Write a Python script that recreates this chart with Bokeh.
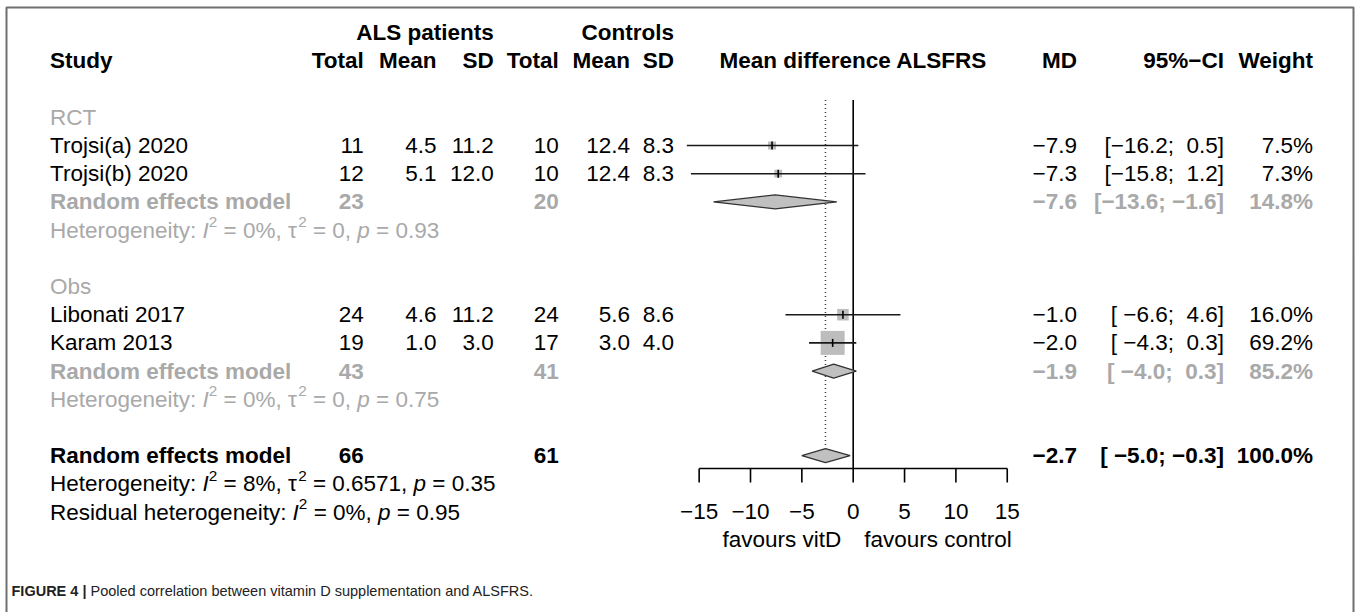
import math
from bokeh.plotting import figure
from bokeh.models import Range1d, ColumnDataSource
from bokeh.core.properties import value
from bokeh.embed import file_html
from bokeh.resources import INLINE

# ---------------- data ----------------
studies = ["Trojsi(a) 2020", "Trojsi(b) 2020", "Libonati 2017", "Karam 2013"]
study_group = ["RCT", "RCT", "Obs", "Obs"]
als_total = [11, 12, 24, 19]
als_mean = [4.5, 5.1, 4.6, 1.0]
als_sd = [11.2, 12.0, 11.2, 3.0]
ctl_total = [10, 10, 24, 17]
ctl_mean = [12.4, 12.4, 5.6, 3.0]
ctl_sd = [8.3, 8.3, 8.6, 4.0]
md = [-7.9, -7.3, -1.0, -2.0]
ci_lo = [-16.2, -15.8, -6.6, -4.3]
ci_hi = [0.5, 1.2, 4.6, 0.3]
weight = [7.5, 7.3, 16.0, 69.2]

groups = ["RCT", "Obs"]
grp_als_total = [23, 43]
grp_ctl_total = [20, 41]
grp_md = [-7.6, -1.9]
grp_lo = [-13.6, -4.0]
grp_hi = [-1.6, 0.3]
grp_weight = [14.8, 85.2]
grp_i2 = ["0%", "0%"]
grp_tau2 = ["0", "0"]
grp_p = ["0.93", "0.75"]

overall_als_total = [66]
overall_ctl_total = [61]
overall_md = [-2.7]
overall_lo = [-5.0]
overall_hi = [-0.3]
overall_weight = [100.0]
overall_i2 = "8%"
overall_tau2 = "0.6571"
overall_p = "0.35"
resid_i2 = "0%"
resid_p = "0.95"

axis_ticks = [-15, -10, -5, 0, 5, 10, 15]
label_left = "favours vitD"
label_right = "favours control"
caption_bold = "FIGURE 4 |"
caption_text = "Pooled correlation between vitamin D supplementation and ALSFRS."

# ---------------- layout ----------------
W_PX, H_PX = 1358, 612
FONT = "Liberation Sans"
FS = 22.5
GRAY = "#a9a9a9"
NB = "\u00a0"
ROW0 = 60.4
PITCH = 28.2
ZERO_PX = 852.7
PX_PER_UNIT = 10.27
X_STUDY = 49.5
X_ALS_T, X_ALS_M, X_ALS_SD = 363.3, 436.0, 493.3
X_CTL_T, X_CTL_M, X_CTL_SD = 558.3, 629.5, 673.5
X_MD, X_CI, X_W = 1076.5, 1223.5, 1312.5
AXIS_Y = 468.0
TICK_LEN = 14.0
TICKLAB_Y = 510.7
FAV_Y = 539.0
CAPTION_Y = 590.0


def row_y(i):
    return ROW0 + i * PITCH


def fmt(v):
    return f"{v:.1f}".replace("-", "\u2212")


def ci_str(lo, hi):
    a = f"{lo:.1f}".rjust(5).replace(" ", NB)
    b = f"{hi:.1f}".rjust(4).replace(" ", NB)
    return ("[" + a + ";" + NB + b + "]").replace("-", "\u2212")


# Arial / Liberation Sans advance widths (1/1000 em)
AW = {" ": 278, NB: 278, "%": 889, "(": 333, ")": 333, ",": 278, ".": 278,
      ":": 278, ";": 278, "=": 584, "|": 260, "\u03c4": 450}
for c in "0123456789":
    AW[c] = 556
AW.update(dict(zip("ABCDEFGHIJKLMNOPQRSTUVWXYZ",
                   [667, 667, 722, 722, 667, 611, 778, 722, 278, 500, 667, 556, 833,
                    722, 778, 667, 778, 722, 667, 611, 722, 667, 944, 667, 667, 611])))
AW.update(dict(zip("abcdefghijklmnopqrstuvwxyz",
                   [556, 556, 500, 556, 556, 278, 556, 556, 222, 222, 500, 222, 833,
                    556, 556, 556, 556, 333, 500, 278, 556, 500, 722, 500, 500, 500])))
BW = {"F": 611, "I": 278, "G": 778, "U": 722, "R": 722, "E": 667, " ": 278, NB: 278, "4": 556, "|": 280}


def tw(s, size, table=AW):
    return sum(table.get(c, 556) for c in s) / 1000.0 * size


p = figure(width=W_PX, height=H_PX, output_backend="svg", toolbar_location=None,
           x_range=Range1d(0, W_PX), y_range=Range1d(H_PX, 0),
           x_axis_type=None, y_axis_type=None, min_border=0,
           background_fill_color="white", border_fill_color="white")
p.outline_line_color = None
p.xgrid.visible = False
p.ygrid.visible = False
p.extra_x_ranges = {"md": Range1d((0 - ZERO_PX) / PX_PER_UNIT, (W_PX - ZERO_PX) / PX_PER_UNIT)}


def put(xs, ys, texts, color="black", style="normal", size=FS, align="left", rng=None, font=FONT):
    src = ColumnDataSource(dict(x=list(xs), y=list(ys), t=list(texts)))
    kw = dict(x="x", y="y", text="t", source=src, text_font=value(font),
              text_font_size=value(f"{size}px"), text_font_style=value(style),
              text_color=color, text_align=align, text_baseline="middle")
    if rng:
        kw["x_range_name"] = rng
    p.text(**kw)


def het_line(x0, y, tokens, color):
    # tokens: (text, kind) with kind in n (normal), i (italic), s (superscript)
    x = x0
    buckets = {"n": ([], [], []), "i": ([], [], []), "s": ([], [], [])}
    for t, k in tokens:
        t = t.replace(" ", NB)
        size = FS * 0.68 if k == "s" else FS
        yy = y - FS * 0.36 if k == "s" else y
        b = buckets[k]
        b[0].append(x); b[1].append(yy); b[2].append(t)
        x += tw(t, size)
    put(*buckets["n"], color=color)
    put(*buckets["i"], color=color, style="italic")
    put(*buckets["s"], color=color, size=round(FS * 0.68, 1))


# frame
p.line([6, 6, 1353, 1353], [700, 7, 7, 700], line_color="#6e6e6e", line_width=2)

# headers
put([X_ALS_SD, X_CTL_SD], [row_y(-1)] * 2, ["ALS patients", "Controls"], style="bold", align="right")
put([X_STUDY], [row_y(0)], ["Study"], style="bold")
put([X_ALS_T, X_ALS_M, X_ALS_SD, X_CTL_T, X_CTL_M, X_CTL_SD, X_MD, X_CI, X_W], [row_y(0)] * 9,
    ["Total", "Mean", "SD", "Total", "Mean", "SD", "MD", "95%\u2212CI", "Weight"],
    style="bold", align="right")
put([0], [row_y(0)], ["Mean difference ALSFRS"], style="bold", align="center", rng="md")

# row assignment
study_rows = []
grp_base = []
for g, name in enumerate(groups):
    base = 2 + g * 6
    grp_base.append(base)
    j = 0
    for i, sg in enumerate(study_group):
        if sg == name:
            study_rows.append((i, base + 1 + j))
            j += 1
study_rows.sort()
sy = [row_y(r) for _, r in study_rows]

# subgroup labels
put([X_STUDY] * len(groups), [row_y(b) for b in grp_base], groups, color=GRAY)

# study rows text
put([X_STUDY] * len(studies), sy, studies)
put([X_ALS_T] * 4, sy, [str(v) for v in als_total], align="right")
put([X_ALS_M] * 4, sy, [fmt(v) for v in als_mean], align="right")
put([X_ALS_SD] * 4, sy, [fmt(v) for v in als_sd], align="right")
put([X_CTL_T] * 4, sy, [str(v) for v in ctl_total], align="right")
put([X_CTL_M] * 4, sy, [fmt(v) for v in ctl_mean], align="right")
put([X_CTL_SD] * 4, sy, [fmt(v) for v in ctl_sd], align="right")
put([X_MD] * 4, sy, [fmt(v) for v in md], align="right")
put([X_CI] * 4, sy, [ci_str(a, b) for a, b in zip(ci_lo, ci_hi)], align="right")
put([X_W] * 4, sy, [f"{w:.1f}%" for w in weight], align="right")

# subgroup random effects rows
gy = [row_y(b + 3) for b in grp_base]
put([X_STUDY] * 2, gy, ["Random effects model"] * 2, color=GRAY, style="bold")
put([X_ALS_T] * 2, gy, [str(v) for v in grp_als_total], color=GRAY, style="bold", align="right")
put([X_CTL_T] * 2, gy, [str(v) for v in grp_ctl_total], color=GRAY, style="bold", align="right")
put([X_MD] * 2, gy, [fmt(v) for v in grp_md], color=GRAY, style="bold", align="right")
put([X_CI] * 2, gy, [ci_str(a, b) for a, b in zip(grp_lo, grp_hi)], color=GRAY, style="bold", align="right")
put([X_W] * 2, gy, [f"{w:.1f}%" for w in grp_weight], color=GRAY, style="bold", align="right")

for g in range(len(groups)):
    het_line(X_STUDY, row_y(grp_base[g] + 4),
             [("Heterogeneity: ", "n"), ("I", "i"), ("2", "s"), (" = " + grp_i2[g] + ", \u03c4", "n"),
              ("2", "s"), (" = " + grp_tau2[g] + ", ", "n"), ("p", "i"), (" = " + grp_p[g], "n")], GRAY)

# overall rows
oy = [row_y(14)]
put([X_STUDY], oy, ["Random effects model"], style="bold")
put([X_ALS_T], oy, [str(v) for v in overall_als_total], style="bold", align="right")
put([X_CTL_T], oy, [str(v) for v in overall_ctl_total], style="bold", align="right")
put([X_MD], oy, [fmt(v) for v in overall_md], style="bold", align="right")
put([X_CI], oy, [ci_str(a, b) for a, b in zip(overall_lo, overall_hi)], style="bold", align="right")
put([X_W], oy, [f"{w:.1f}%" for w in overall_weight], style="bold", align="right")
het_line(X_STUDY, row_y(15),
         [("Heterogeneity: ", "n"), ("I", "i"), ("2", "s"), (" = " + overall_i2 + ", \u03c4", "n"),
          ("2", "s"), (" = " + overall_tau2 + ", ", "n"), ("p", "i"), (" = " + overall_p, "n")], "black")
het_line(X_STUDY, row_y(16),
         [("Residual heterogeneity: ", "n"), ("I", "i"), ("2", "s"), (" = " + resid_i2 + ", ", "n"),
          ("p", "i"), (" = " + resid_p, "n")], "black")

# ---------------- forest plot ----------------
top_y = row_y(1) + 11
# reference lines
p.segment(x0=[0], y0=[top_y], x1=[0], y1=[AXIS_Y], line_color="black", line_width=1.6, x_range_name="md")
p.segment(x0=overall_md, y0=[top_y], x1=overall_md, y1=[row_y(14) - 8], line_color="#444444",
          line_width=1.6, line_dash="1 3", x_range_name="md")

# study squares, CI lines, estimates
k = 24.0 / math.sqrt(max(weight))
p.scatter(x=md, y=sy, marker="square", size=[k * math.sqrt(w) for w in weight],
          fill_color="#bdbdbd", line_color=None, x_range_name="md")
p.segment(x0=ci_lo, y0=sy, x1=ci_hi, y1=sy, line_color="#1a1a1a", line_width=1.6, x_range_name="md")
p.segment(x0=md, y0=[y - 4 for y in sy], x1=md, y1=[y + 4 for y in sy], line_color="black",
          line_width=1.6, x_range_name="md")

# diamonds
d_md = grp_md + overall_md
d_lo = grp_lo + overall_lo
d_hi = grp_hi + overall_hi
d_y = gy + oy
p.patches(xs=[[a, m, b, m] for a, m, b in zip(d_lo, d_md, d_hi)],
          ys=[[y, y - 7, y, y + 7] for y in d_y],
          fill_color="#c0c0c0", line_color="#333333", line_width=1.4, x_range_name="md")

# axis
p.segment(x0=[min(axis_ticks)], y0=[AXIS_Y], x1=[max(axis_ticks)], y1=[AXIS_Y],
          line_color="black", line_width=1.6, x_range_name="md")
p.segment(x0=axis_ticks, y0=[AXIS_Y] * len(axis_ticks), x1=axis_ticks,
          y1=[AXIS_Y + TICK_LEN] * len(axis_ticks), line_color="black", line_width=1.6, x_range_name="md")
put(axis_ticks, [TICKLAB_Y] * len(axis_ticks), [str(t).replace("-", "\u2212") for t in axis_ticks],
    align="center", rng="md")
put([ZERO_PX - 12], [FAV_Y], [label_left], align="right")
put([ZERO_PX + 11], [FAV_Y], [label_right], align="left")

# caption
CFS = 14.5
CX = 11
put([CX], [CAPTION_Y], [caption_bold], color="#222222", style="bold", size=CFS)
put([CX + tw(caption_bold + NB, CFS, BW)], [CAPTION_Y], [caption_text], color="#222222", size=CFS)

open("out.html", "w").write(file_html(p, INLINE))
